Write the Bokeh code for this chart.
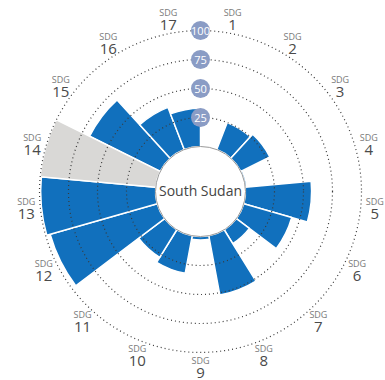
import numpy as np
from bokeh.plotting import figure
from bokeh.models import ColumnDataSource, Range1d
from bokeh.core.properties import value
from bokeh.embed import file_html
from bokeh.resources import INLINE

# SDG index scores for one country (None = no data, drawn as a grey full-height wedge)
country = "South Sudan"
goal_numbers = [str(i) for i in range(1, 18)]
scores = [0, 25, 28, 1.5, 57, 43, 14, 52, 3, 33, 28, 96, 99, None, 68, 39, 33]
ring_values = [25, 50, 75, 100]

BLUE = "#1170bd"
GREY = "#d9d8d6"
BADGE = "#8a9cc5"
FONT = value("Open Sans")

R_IN = 45.0      # radius of the white hub (score 0)
R_FULL = 161.0   # radius of score 100
R_LABEL = 175.0  # radius of the goal labels


def radius_of(v):
    return R_IN + (R_FULL - R_IN) * v / 100.0


n = len(goal_numbers)
step = 2 * np.pi / n
idx = np.arange(n)
# clockwise from 12 o'clock, converted to Bokeh's counter-clockwise angles
start = np.pi / 2 - (idx + 1) * step
end = np.pi / 2 - idx * step
mid = np.pi / 2 - (idx + 0.5) * step

p = figure(width=385, height=380,
           x_range=Range1d(-200, 185), y_range=Range1d(-189, 191),
           x_axis_type=None, y_axis_type=None,
           output_backend="svg", toolbar_location=None, min_border=0)
p.grid.visible = False
p.outline_line_color = None
p.background_fill_color = "white"

have = [i for i, s in enumerate(scores) if s is not None]
missing = [i for i, s in enumerate(scores) if s is None]

bars = ColumnDataSource(dict(
    start=start[have], end=end[have],
    outer=[radius_of(scores[i]) for i in have],
))
p.annular_wedge(x=0, y=0, inner_radius=R_IN, outer_radius="outer",
                start_angle="start", end_angle="end", source=bars,
                fill_color=BLUE, line_color="white", line_width=1.5)

nodata = ColumnDataSource(dict(start=start[missing], end=end[missing]))
p.annular_wedge(x=0, y=0, inner_radius=R_IN, outer_radius=radius_of(100),
                start_angle="start", end_angle="end", source=nodata,
                fill_color=GREY, line_color="white", line_width=1.5)

# dotted reference rings
rings = ColumnDataSource(dict(r=[radius_of(v) for v in ring_values]))
p.circle(x=0, y=0, radius="r", source=rings, fill_color=None,
         line_color="#3a3a3a", line_dash="1 3", line_width=1.2)

# hub
p.circle(x=0, y=0, radius=R_IN, fill_color="white",
         line_color="#9a9a9a", line_width=1)
p.text(x=[0], y=[1], text=[country], text_align="center",
       text_baseline="middle", text_font=FONT, text_font_size="14px",
       text_color="#444444")

# ring value badges on the vertical axis
badges = ColumnDataSource(dict(
    x=[0] * len(ring_values),
    y=[radius_of(v) for v in ring_values],
    t=[str(v) for v in ring_values],
))
p.circle(x="x", y="y", radius=9.5, source=badges, fill_color=BADGE,
         line_color=None)
p.text(x="x", y="y", text="t", source=badges, text_align="center",
       text_baseline="middle", text_font=FONT, text_font_size="11px",
       text_color="white")

# goal labels around the outside
lx = R_LABEL * np.cos(mid)
ly = R_LABEL * np.sin(mid)
labels = ColumnDataSource(dict(x=lx, y=ly, num=goal_numbers,
                               sdg=["SDG"] * n))
p.text(x="x", y="y", text="sdg", source=labels, text_align="center",
       text_baseline="middle", text_font=FONT, text_font_size="9px",
       text_color="#7a7a7a", y_offset=-6.5)
p.text(x="x", y="y", text="num", source=labels, text_align="center",
       text_baseline="middle", text_font=FONT, text_font_size="15px",
       text_color="#4a4a4a", y_offset=6)

open("out.html", "w").write(file_html(p, INLINE))
